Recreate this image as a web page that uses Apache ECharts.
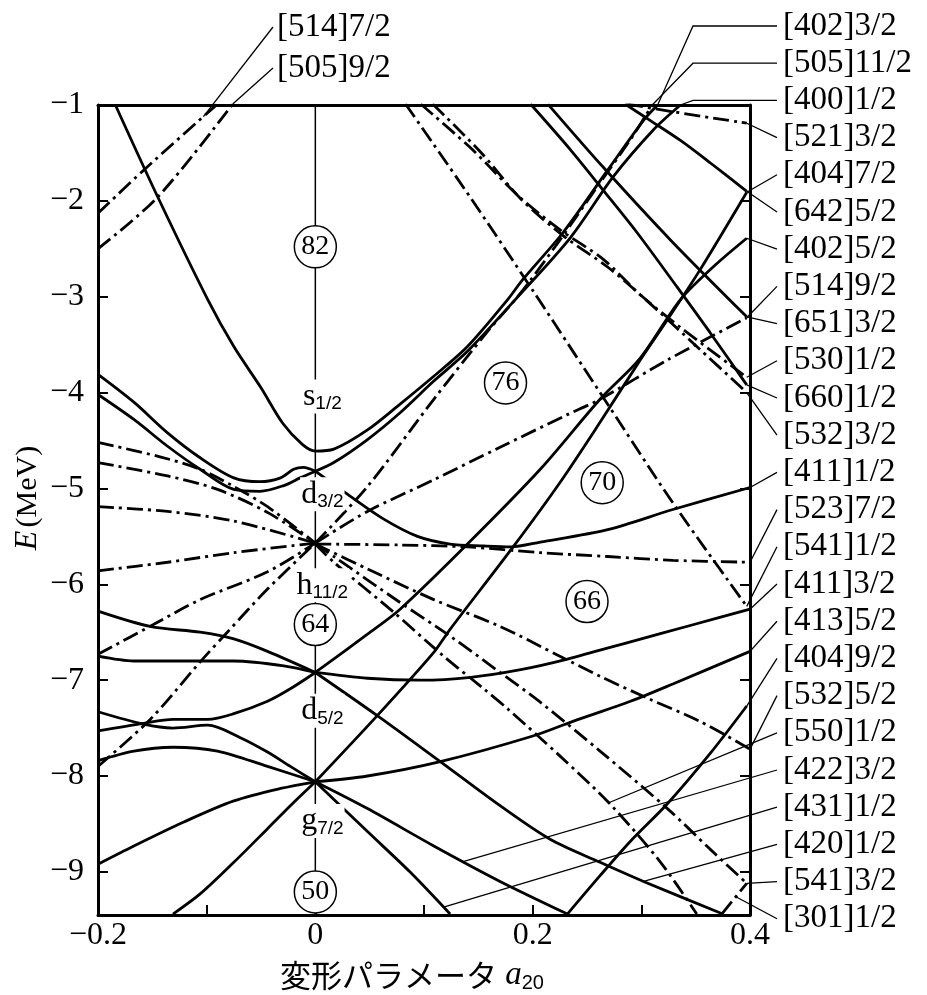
<!DOCTYPE html>
<html><head><meta charset="utf-8">
<script src="https://cdn.jsdelivr.net/npm/echarts@6/dist/echarts.min.js"></script>
<style>html,body{margin:0;padding:0;background:#fff}#c{width:927px;height:995px}</style>
</head><body><div id="c"></div><script>
// ---------- data (deformation a20, energy MeV) ----------
const xTickValues = [-0.2,-0.1,0,0.1,0.2,0.3,0.4];
const xLabelValues = [-0.2,0,0.2,0.4];
const yTickValues = [-9,-8,-7,-6,-5,-4,-3,-2,-1];

// positive parity (solid)
const s12Path   = [[-0.184,-1.0],[-0.145,-1.96],[-0.099,-3.03],[-0.075,-3.52],[-0.050,-3.95],[-0.030,-4.32],[-0.012,-4.54],[0,-4.61],[0.017,-4.59],[0.048,-4.39],[0.078,-4.12],[0.109,-3.83],[0.140,-3.52],[0.177,-3.03],[0.191,-2.82],[0.228,-2.33],[0.269,-1.68],[0.302,-1.16],[0.315,-1.0]];
const d32Up     = [[0,-4.82],[0.017,-4.73],[0.048,-4.49],[0.078,-4.21],[0.109,-3.88],[0.140,-3.57],[0.184,-3.03],[0.235,-2.38],[0.274,-1.75],[0.311,-1.26],[0.336,-1.0]];
const d32LeftUp = [[-0.2,-3.81],[-0.167,-4.10],[-0.136,-4.42],[-0.106,-4.68],[-0.075,-4.89],[-0.051,-4.93],[-0.032,-4.89],[-0.020,-4.80],[-0.011,-4.78],[0,-4.82]];
const d32LeftLo = [[-0.2,-4.02],[-0.167,-4.28],[-0.136,-4.56],[-0.106,-4.80],[-0.075,-5.01],[-0.051,-5.03],[-0.029,-4.97],[-0.014,-4.89],[0,-4.82]];
const d32Down   = [[0,-4.82],[0.032,-5.08],[0.063,-5.32],[0.094,-5.50],[0.124,-5.58],[0.155,-5.60],[0.180,-5.61],[0.207,-5.56],[0.269,-5.43],[0.329,-5.22],[0.4,-4.99]];
const d52L0     = [[-0.2,-6.28],[-0.152,-6.44],[-0.106,-6.50],[-0.075,-6.57],[-0.044,-6.70],[0,-6.92]];
const d52L1     = [[-0.2,-6.75],[-0.167,-6.80],[-0.136,-6.80],[-0.075,-6.80],[-0.029,-6.85],[0,-6.92]];
const d52L2     = [[-0.2,-7.53],[-0.158,-7.45],[-0.131,-7.41],[-0.099,-7.41],[-0.075,-7.35],[-0.044,-7.22],[-0.023,-7.09],[0,-6.92]];
const d52Rup    = [[0,-6.92],[0.048,-6.52],[0.078,-6.26],[0.140,-5.58],[0.207,-4.80],[0.262,-4.07],[0.299,-3.64],[0.336,-3.03],[0.368,-2.67],[0.397,-2.39]];
const d52Rflat  = [[0,-6.92],[0.048,-6.98],[0.097,-7.00],[0.143,-6.97],[0.189,-6.89],[0.232,-6.78],[0.290,-6.60],[0.345,-6.43],[0.4,-6.26]];
const d52Rdown  = [[0,-6.92],[0.057,-7.37],[0.115,-7.85],[0.170,-8.31],[0.216,-8.66],[0.262,-8.90],[0.302,-9.10],[0.375,-9.44]];
const g72L1     = [[-0.2,-7.33],[-0.158,-7.46],[-0.131,-7.50],[-0.099,-7.47],[-0.069,-7.60],[-0.044,-7.75],[-0.023,-7.90],[0,-8.06]];
const g72L2     = [[-0.2,-7.84],[-0.167,-7.74],[-0.131,-7.70],[-0.090,-7.74],[-0.044,-7.90],[0,-8.06]];
const g72L3     = [[-0.2,-8.92],[-0.167,-8.73],[-0.121,-8.48],[-0.075,-8.26],[-0.032,-8.13],[0,-8.06]];
const g72L4     = [[-0.131,-9.44],[-0.106,-9.23],[-0.075,-8.90],[-0.044,-8.55],[-0.023,-8.31],[0,-8.06]];
const g72Rup    = [[0,-8.06],[0.057,-7.37],[0.109,-6.71],[0.124,-6.47],[0.182,-5.61],[0.225,-4.94],[0.262,-4.31],[0.299,-3.66],[0.324,-3.24],[0.354,-2.72],[0.397,-1.91]];
const g72Rflat  = [[0,-8.06],[0.048,-8.00],[0.115,-7.85],[0.201,-7.58],[0.237,-7.43],[0.290,-7.22],[0.329,-7.04],[0.4,-6.70]];
const g72Rdown1 = [[0,-8.06],[0.048,-8.34],[0.109,-8.73],[0.170,-9.10],[0.232,-9.44]];
const g72Rdown2 = [[0,-8.06],[0.048,-8.58],[0.087,-9.00],[0.124,-9.44]];
const n404_92   = [[0.232,-9.44],[0.262,-9.04],[0.290,-8.68],[0.324,-8.29],[0.363,-7.77],[0.397,-7.27]];
const n660_12   = [[0.198,-0.99],[0.235,-1.47],[0.265,-1.89],[0.296,-2.33],[0.333,-2.90],[0.363,-3.37],[0.397,-3.92]];
const n651_32   = [[0.214,-0.99],[0.265,-1.65],[0.327,-2.41],[0.397,-3.21]];
const n642_52   = [[0.285,-0.99],[0.308,-1.16],[0.336,-1.37],[0.363,-1.60],[0.397,-1.90]];

// negative parity (dash-dot)
const h112L1 = [[-0.2,-4.52],[-0.143,-4.67],[-0.106,-4.80],[-0.075,-4.98],[-0.044,-5.19],[0,-5.57]];
const h112L2 = [[-0.2,-4.73],[-0.136,-4.87],[-0.090,-5.01],[-0.044,-5.25],[0,-5.57]];
const h112L3 = [[-0.2,-5.19],[-0.136,-5.24],[-0.075,-5.34],[0,-5.57]];
const h112L4 = [[-0.2,-5.86],[-0.136,-5.77],[-0.075,-5.67],[0,-5.57]];
const h112L5 = [[-0.2,-6.73],[-0.149,-6.42],[-0.106,-6.16],[-0.044,-5.87],[0,-5.57]];
const h112L6 = [[-0.2,-7.90],[-0.152,-7.41],[-0.106,-6.81],[-0.081,-6.50],[-0.044,-6.05],[0,-5.57]];
const h112R1 = [[0,-5.57],[0.048,-4.98],[0.109,-4.07],[0.158,-3.37],[0.189,-2.96],[0.225,-2.41],[0.262,-1.81],[0.290,-1.36],[0.310,-1.0]];
const h112R2 = [[0,-5.57],[0.048,-5.24],[0.109,-4.91],[0.170,-4.57],[0.232,-4.23],[0.262,-4.07],[0.324,-3.66],[0.397,-3.22]];
const h112R3 = [[0,-5.58],[0.078,-5.59],[0.140,-5.61],[0.207,-5.67],[0.269,-5.71],[0.329,-5.75],[0.4,-5.77]];
const h112R4 = [[0,-5.58],[0.048,-5.84],[0.109,-6.16],[0.170,-6.44],[0.225,-6.75],[0.262,-6.96],[0.308,-7.20],[0.354,-7.43],[0.4,-7.72]];
const h112R5 = [[0,-5.58],[0.017,-5.71],[0.078,-6.19],[0.124,-6.54],[0.170,-6.92],[0.207,-7.23],[0.262,-7.74],[0.324,-8.34],[0.363,-8.76],[0.397,-9.12]];
const h112R6 = [[0,-5.58],[0.017,-5.77],[0.072,-6.29],[0.118,-6.75],[0.155,-7.09],[0.177,-7.30],[0.225,-7.79],[0.271,-8.29],[0.317,-8.89],[0.351,-9.44]];
const n541_12 = [[0.083,-0.99],[0.143,-1.97],[0.201,-2.95],[0.262,-4.00],[0.329,-5.15],[0.397,-6.23]];
const n530_12 = [[0.097,-0.99],[0.145,-1.47],[0.186,-1.94],[0.225,-2.30],[0.265,-2.61],[0.299,-2.98],[0.336,-3.32],[0.397,-3.84]];
const n532_32 = [[0.108,-0.99],[0.152,-1.49],[0.190,-1.99],[0.230,-2.38],[0.269,-2.69],[0.304,-3.03],[0.354,-3.55],[0.397,-4.00]];
const n521_32 = [[0.287,-0.99],[0.329,-1.07],[0.397,-1.19]];
const n514_72 = [[-0.2,-2.13],[-0.158,-1.68],[-0.090,-0.99]];
const n505_92 = [[-0.2,-2.50],[-0.145,-1.96],[-0.076,-0.99]];
const n541_32 = [[0.374,-9.44],[0.397,-9.12]];

const solidCurves = [s12Path,d32Up,d32LeftUp,d32LeftLo,d32Down,d52L0,d52L1,d52L2,d52Rup,d52Rflat,d52Rdown,
  g72L1,g72L2,g72L3,g72L4,g72Rup,g72Rflat,g72Rdown1,g72Rdown2,n404_92,n660_12,n651_32,n642_52];
const dashCurves = [h112L1,h112L2,h112L3,h112L4,h112L5,h112L6,h112R1,h112R2,h112R3,h112R4,h112R5,h112R6,
  n541_12,n530_12,n532_32,n521_32,n514_72,n505_92,n541_32];

// magic numbers (circled)
const shellNumbers = ['82','76','70','66','64','50'];
const shellX = [0,0.175,0.264,0.250,0,0];
const shellY = [-2.48,-3.90,-4.94,-6.18,-6.42,-9.21];

// spherical levels
const levelLetter = ['s','d','h','d','g'];
const levelJ = ['1/2','3/2','11/2','5/2','7/2'];
const levelLabelY = [-4.04,-5.06,-6.01,-7.32,-8.47];

// Nilsson labels (right column, top to bottom) with curve & anchor x (null = curve end)
const rightLabelText = ['[402]3/2','[505]11/2','[400]1/2','[521]3/2','[404]7/2','[642]5/2','[402]5/2','[514]9/2','[651]3/2','[530]1/2','[660]1/2','[532]3/2','[411]1/2','[523]7/2','[541]1/2','[411]3/2','[413]5/2','[404]9/2','[532]5/2','[550]1/2','[422]3/2','[431]1/2','[420]1/2','[541]3/2','[301]1/2'];
const rightLabelCurve = [s12Path,h112R1,d32Up,n521_32,g72Rup,n642_52,d52Rup,h112R2,n651_32,n530_12,n660_12,n532_32,d32Down,h112R3,n541_12,d52Rflat,g72Rflat,n404_92,h112R4,h112R6,g72Rdown1,g72Rdown2,d52Rdown,h112R5,n541_32];
const rightLabelAt = [null,null,null,null,null,null,null,null,null,null,null,null,null,null,null,null,null,null,null,0.27,0.136,0.118,0.302,null,0.387];
const leftLabelText = ['[514]7/2','[505]9/2'];
const leftLabelCurve = [n514_72,n505_92];
const leftLabelAt = [-0.103,null];

// ---------- chart ----------
const SERIF = '"Liberation Serif", "DejaVu Serif", serif';
const fmt = v => (v === 0 ? '0' : (v < 0 ? '\u2212' : '') + String(Math.abs(v)));
const lineSeries = (data, dash) => ({
  type:'line', data, smooth:0.3, symbol:'none', silent:true, z:3,
  lineStyle:{color:'#000', width:2.8, type: dash ? [16,5,3,5] : 'solid', cap:'butt'}
});
const series = [];
series.push({type:'line', data:[[0,-1],[0,-9.45]], symbol:'none', silent:true, z:2, lineStyle:{color:'#000', width:1.5}});
solidCurves.forEach(c => series.push(lineSeries(c,false)));
dashCurves.forEach(c => series.push(lineSeries(c,true)));
series.push({
  type:'scatter', silent:true, z:6,
  data: shellNumbers.map((n,i)=>[shellX[i],shellY[i],n]),
  symbol:'circle', symbolSize:42,
  itemStyle:{color:'#fff', borderColor:'#000', borderWidth:1.5, opacity:1},
  label:{show:true, position:'inside', formatter:p=>p.data[2], fontFamily:SERIF, fontSize:28, color:'#000', textBorderWidth:0}
});
series.push({
  type:'scatter', silent:true, z:7,
  data: levelLetter.map((l,i)=>[0,levelLabelY[i],l,levelJ[i]]),
  symbol:'circle', symbolSize:2, itemStyle:{color:'#fff', opacity:1},
  label:{show:true, position:'inside', offset:[7,0], color:'#000', opacity:1, textBorderWidth:0,
    formatter:p=>'{m|'+p.data[2]+'}{s|'+p.data[3]+'}',
    backgroundColor:'#fff', padding:[0,1],
    rich:{m:{fontFamily:SERIF, fontSize:32, lineHeight:34, color:'#000', textBorderWidth:0},
          s:{fontFamily:'"Liberation Sans", Arial, sans-serif', fontSize:19, lineHeight:19, verticalAlign:'bottom', color:'#000', textBorderWidth:0}}}
});

const axisLineStyle = {show:true, onZero:false, lineStyle:{color:'#000', width:3}};
const option = {
  animation:false, backgroundColor:'#fff',
  grid:{left:98, right:177, top:105, bottom:80},
  xAxis:[
    {type:'value', min:-0.2, max:0.4, position:'bottom', axisLine:axisLineStyle,
     axisTick:{show:true, inside:true, length:10, customValues:xTickValues, lineStyle:{color:'#000', width:2}},
     axisLabel:{customValues:xLabelValues, formatter:fmt, color:'#000', fontFamily:SERIF, fontSize:32, margin:5},
     splitLine:{show:false}},
    {type:'value', min:-0.2, max:0.4, position:'top', axisLine:axisLineStyle, axisTick:{show:false}, axisLabel:{show:false}, splitLine:{show:false}}
  ],
  yAxis:[
    {type:'value', min:-9.45, max:-1, position:'left', axisLine:axisLineStyle,
     axisTick:{show:true, inside:true, length:10, customValues:yTickValues, lineStyle:{color:'#000', width:2}},
     axisLabel:{customValues:yTickValues, formatter:fmt, color:'#000', fontFamily:SERIF, fontSize:32, margin:14},
     splitLine:{show:false}},
    {type:'value', min:-9.45, max:-1, position:'right', axisLine:axisLineStyle,
     axisTick:{show:true, inside:true, length:10, customValues:yTickValues, lineStyle:{color:'#000', width:2}},
     axisLabel:{show:false}, splitLine:{show:false}}
  ],
  series
};
const chart = echarts.init(document.getElementById('c'), null, {renderer:'canvas'});
chart.setOption(option);

// ---------- annotations (labels + leader lines) ----------
const toPx = p => chart.convertToPixel({xAxisIndex:0, yAxisIndex:0}, p);
function yAt(path, x){
  for (let i=0;i<path.length-1;i++){
    const a=path[i], b=path[i+1];
    if ((x-a[0])*(x-b[0])<=0){ const t=(x-a[0])/(b[0]-a[0]); return a[1]+t*(b[1]-a[1]); }
  }
  return path[path.length-1][1];
}
const anchorOf = (path, x) => toPx(x==null ? path[path.length-1] : [x, yAt(path,x)]);
const labelFont = '33px ' + SERIF;
const graphics = [];
rightLabelText.forEach((t,i)=>{
  const y = 26 + i*37.2;
  const a = anchorOf(rightLabelCurve[i], rightLabelAt[i]);
  const pts = i < 3 ? [[777,y],[693,y],a] : [[777,y],a];
  graphics.push({type:'polyline', silent:true, z:20, shape:{points:pts}, style:{stroke:'#000', lineWidth:1.3, fill:null}});
  graphics.push({type:'text', silent:true, z:20, x:783, y:y, style:{text:t, font:labelFont, fill:'#000', align:'left', verticalAlign:'middle', textAlign:'left', textVerticalAlign:'middle'}});
});
leftLabelText.forEach((t,i)=>{
  const y = 27 + i*41;
  const a = anchorOf(leftLabelCurve[i], leftLabelAt[i]);
  graphics.push({type:'polyline', silent:true, z:20, shape:{points:[[273,y],a]}, style:{stroke:'#000', lineWidth:1.3, fill:null}});
  graphics.push({type:'text', silent:true, z:20, x:277, y:y, style:{text:t, font:labelFont, fill:'#000', align:'left', verticalAlign:'middle', textAlign:'left', textVerticalAlign:'middle'}});
});
graphics.push({type:'text', silent:true, z:20, x:412, y:975, style:{
  text:'{c|変形パラメータ}{a| a}{s|20}', align:'center', verticalAlign:'middle', textAlign:'center', textVerticalAlign:'middle',
  rich:{c:{fontFamily:'"Noto Sans CJK JP", sans-serif', fontSize:31, fill:'#000', color:'#000', lineHeight:36},
        a:{fontFamily:SERIF, fontStyle:'italic', fontSize:33, fill:'#000', color:'#000', lineHeight:36},
        s:{fontFamily:'"Liberation Sans", sans-serif', fontSize:20, fill:'#000', color:'#000', lineHeight:20, verticalAlign:'bottom'}}}});
graphics.push({type:'text', silent:true, z:20, x:28, y:498, rotation:Math.PI/2, style:{
  text:'{e|E} {m|(MeV)}', align:'center', verticalAlign:'middle', textAlign:'center', textVerticalAlign:'middle',
  rich:{e:{fontFamily:SERIF, fontStyle:'italic', fontSize:32, fill:'#000', color:'#000'},
        m:{fontFamily:SERIF, fontSize:30, fill:'#000', color:'#000'}}}});
chart.setOption({graphic:{elements:graphics}});
</script></body></html>
